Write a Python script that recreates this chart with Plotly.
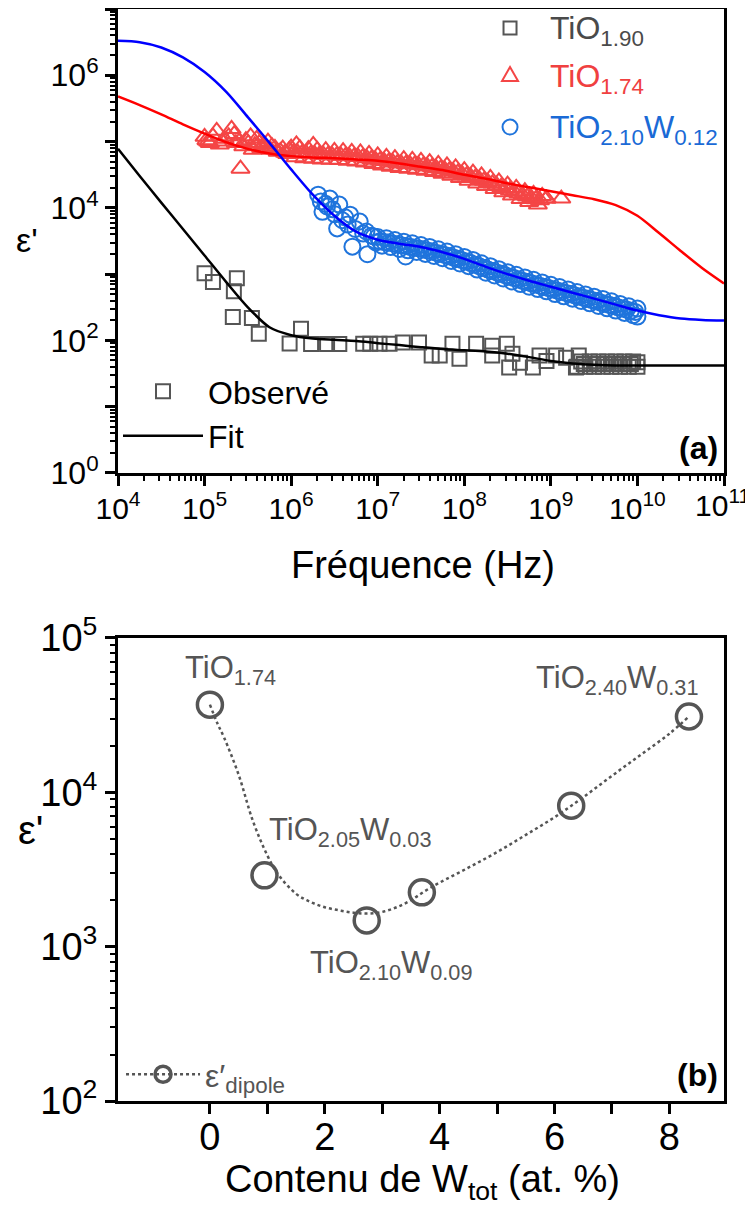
import plotly.graph_objects as go

# ---------------- Panel (a) data ----------------
# TiO1.90 (observed)
f_190 = [1.0e5, 1.25e5, 2.36e5, 2.18e5, 2.12e5, 3.52e5, 4.23e5, 9.6e5, 1.3e6, 1.7e6,
         2.6e6, 3.6e6, 6.8e6, 8.2e6, 1.05e7, 1.37e7, 1.95e7, 3.0e7, 4.2e7, 5.2e7,
         7.3e7, 8.8e7, 1.37e8, 2.1e8, 2.1e8, 3.1e8, 3.6e8, 3.3e8, 4.4e8, 6.2e8,
         7.4e8, 8.9e8, 1.15e9, 1.5e9, 1.95e9, 2.1e9, 2.0e9, 2.24e9, 2.4e9, 2.51e9,
         2.82e9, 3.16e9, 3.4e9, 3.55e9, 3.98e9, 4.2e9, 4.47e9, 5.01e9, 5.3e9, 5.62e9,
         6.31e9, 6.7e9, 7.08e9, 7.94e9, 8.4e9, 8.91e9, 1.0e10, 1.0e10]
e_190 = [1030, 760, 870, 550, 226, 218, 126, 90, 150, 88,
         88, 88, 89, 89, 89, 89, 93, 93, 59, 59,
         89, 53, 89, 83, 59, 89, 63, 39, 46, 39,
         59, 49, 59, 55, 39, 59, 40, 48, 44, 40,
         48, 40, 44, 48, 40, 44, 48, 40, 44, 48,
         40, 44, 48, 40, 44, 48, 40, 47]

# TiO1.74 (observed)
f_174 = [1.0e5, 1.05e5, 1.1e5, 1.15e5, 1.25e5, 1.38e5, 1.5e5, 1.6e5, 1.7e5, 1.9e5,
         2.05e5, 2.2e5, 2.3e5, 2.5e5, 2.6e5, 2.8e5, 3.0e5, 3.2e5, 3.4e5, 3.6e5,
         3.8e5, 4.0e5, 4.3e5, 4.5e5, 4.8e5, 5.0e5, 5.4e5, 5.8e5, 6.0e5, 6.5e5,
         7.0e5, 7.5e5, 8.0e5, 8.5e5, 9.0e5, 9.5e5, 1.15e6, 1.8e6,
         1.0e6, 1.12e6, 1.26e6, 1.41e6, 1.58e6, 1.78e6, 2.0e6, 2.24e6, 2.51e6, 2.82e6,
         3.16e6, 3.55e6, 3.98e6, 4.47e6, 5.01e6, 5.62e6, 6.31e6, 7.08e6, 7.94e6, 8.91e6,
         1.0e7, 1.12e7, 1.26e7, 1.41e7, 1.58e7, 1.78e7, 2.0e7, 2.24e7, 2.51e7, 2.82e7,
         3.16e7, 3.55e7, 3.98e7, 4.47e7, 5.01e7, 5.62e7, 6.31e7, 7.08e7, 7.94e7, 8.91e7,
         1.0e8, 1.12e8, 1.26e8, 1.41e8, 1.58e8, 1.78e8, 2.0e8, 2.24e8, 2.51e8, 2.82e8,
         3.16e8, 3.55e8, 3.98e8, 4.47e8, 5.01e8, 5.62e8, 6.31e8, 7.08e8, 7.94e8, 8.91e8,
         8.9e8, 1.32e9,
         1.06e6, 1.19e6, 1.33e6, 1.50e6, 1.68e6, 1.88e6, 2.11e6, 2.37e6, 2.66e6, 2.99e6,
         3.35e6, 3.76e6, 4.22e6, 4.73e6, 5.31e6, 5.96e6, 6.68e6, 7.50e6, 8.41e6, 9.44e6,
         1.06e7, 1.19e7, 1.33e7, 1.50e7, 1.68e7, 1.88e7, 2.11e7, 2.37e7, 2.66e7, 2.99e7,
         3.35e7, 3.76e7, 4.22e7, 4.73e7, 5.31e7, 5.96e7, 6.68e7, 7.50e7, 8.41e7, 9.44e7,
         1.06e8, 1.19e8, 1.33e8, 1.50e8, 1.68e8, 1.88e8, 2.11e8, 2.37e8, 2.66e8, 2.99e8,
         3.35e8, 3.76e8, 4.22e8, 4.73e8, 5.31e8, 5.96e8, 6.68e8, 7.50e8]
e_174 = [118000, 105000, 100000, 95000, 120000, 145000, 90000, 100000, 110000, 120000,
         155000, 130000, 95000, 100000, 39000, 85000, 105000, 95000, 120000, 75000,
         88000, 110000, 95000, 80000, 90000, 82000, 100000, 75000, 85000, 80000,
         70000, 72000, 78000, 68000, 65000, 75000, 91000, 89000,
         81300, 58200, 79400, 56200, 76700, 55000, 75000, 53700, 74100, 53100,
         72400, 52500, 71600, 51300, 70000, 50100, 68400, 48400, 65300, 45700,
         61700, 43600, 58900, 41700, 56200, 39800, 54300, 38900, 53100, 37600,
         51300, 36300, 49000, 34700, 46200, 32700, 43600, 30500, 40700, 28200,
         37200, 25700, 33900, 23400, 30900, 21400, 28200, 19300, 25100, 17200,
         22400, 15300, 20000, 13600, 17800, 12300, 16200, 11200, 15100, 13800,
         13800, 13800,
         68700, 67900, 66800, 65600, 64900, 64100, 63400, 63100, 62700, 61900,
         61700, 61200, 60500, 59800, 59200, 58500, 57500, 56200, 54600, 53100,
         51900, 50700, 49500, 48400, 47300, 46500, 45900, 45400, 44700, 43900,
         43200, 42200, 41200, 40000, 38900, 37800, 36500, 35200, 33900, 32400,
         30900, 29500, 28200, 26900, 25700, 24500, 23300, 22000, 20700, 19600,
         18500, 17500, 16500, 15600, 14800, 14100, 13500, 13000]

# TiO2.10W0.12 (observed)
f_210 = [2.05e6, 2.2e6, 2.3e6, 2.5e6, 2.6e6, 2.8e6, 3.0e6, 3.2e6, 3.4e6, 3.6e6,
         3.9e6, 4.2e6, 4.5e6, 4.8e6, 5.1e6, 5.5e6, 6.2e6, 6.8e6, 7.4e6, 7.6e6,
         8.5e6, 9.0e6, 9.5e6, 2.1e7,
         1.0e7, 1.12e7, 1.26e7, 1.41e7, 1.58e7, 1.78e7, 2.0e7, 2.24e7, 2.51e7, 2.82e7,
         3.16e7, 3.55e7, 3.98e7, 4.47e7, 5.01e7, 5.62e7, 6.31e7, 7.08e7, 7.94e7, 8.91e7,
         1.0e8, 1.12e8, 1.26e8, 1.41e8, 1.58e8, 1.78e8, 2.0e8, 2.24e8, 2.51e8, 2.82e8,
         3.16e8, 3.55e8, 3.98e8, 4.47e8, 5.01e8, 5.62e8, 6.31e8, 7.08e8, 7.94e8, 8.91e8,
         1.0e9, 1.12e9, 1.26e9, 1.41e9, 1.58e9, 1.78e9, 2.0e9, 2.24e9, 2.51e9, 2.82e9,
         3.16e9, 3.55e9, 3.98e9, 4.47e9, 5.01e9, 5.62e9, 6.31e9, 7.08e9, 7.94e9, 8.91e9,
         1.0e10, 1.0e10,
         1.06e7, 1.19e7, 1.33e7, 1.50e7, 1.68e7, 1.88e7, 2.11e7, 2.37e7, 2.66e7, 2.99e7,
         3.35e7, 3.76e7, 4.22e7, 4.73e7, 5.31e7, 5.96e7, 6.68e7, 7.50e7, 8.41e7, 9.44e7,
         1.06e8, 1.19e8, 1.33e8, 1.50e8, 1.68e8, 1.88e8, 2.11e8, 2.37e8, 2.66e8, 2.99e8,
         3.35e8, 3.76e8, 4.22e8, 4.73e8, 5.31e8, 5.96e8, 6.68e8, 7.50e8, 8.41e8, 9.44e8,
         1.06e9, 1.19e9, 1.33e9, 1.50e9, 1.68e9, 1.88e9, 2.11e9, 2.37e9, 2.66e9, 2.99e9,
         3.35e9, 3.76e9, 4.22e9, 4.73e9, 5.31e9, 5.96e9, 6.68e9, 7.50e9, 8.41e9, 9.44e9]
e_210 = [15800, 12500, 8700, 11500, 10500, 13800, 9500, 8000, 4900, 11200,
         6500, 7200, 5600, 7900, 2600, 4800, 6200, 4100, 4400, 2000,
         3800, 3700, 3000, 1850,
         3630, 2690, 3470, 2570, 3270, 2400, 3090, 2290, 2920, 2160,
         2750, 2020, 2570, 1880, 2370, 1740, 2190, 1580, 2000, 1450,
         1820, 1320, 1640, 1170, 1460, 1050, 1320, 955, 1190, 861,
         1070, 776, 977, 708, 891, 646, 822, 596, 750, 550,
         692, 501, 638, 462, 589, 427, 537, 394, 495, 363,
         457, 331, 422, 305, 389, 282, 355, 260, 327, 240,
         302, 229,
         3130, 3050, 2990, 2900, 2800, 2720, 2660, 2580, 2510, 2440,
         2360, 2280, 2200, 2110, 2030, 1950, 1860, 1780, 1700, 1620,
         1550, 1470, 1390, 1310, 1240, 1170, 1120, 1060, 1010, 960,
         912, 871, 832, 794, 759, 728, 700, 668, 641, 617,
         589, 565, 543, 521, 501, 479, 459, 442, 424, 407,
         389, 373, 359, 344, 331, 316, 303, 292, 280, 269]

# Fits (curves)
f_fit = [1.0e4, 1.78e4, 3.16e4, 5.62e4, 1.0e5, 1.78e5, 3.16e5, 5.62e5, 1.0e6, 1.78e6,
         3.16e6, 5.62e6, 1.0e7, 1.78e7, 3.16e7, 5.62e7, 1.0e8, 1.78e8, 3.16e8, 5.62e8,
         1.0e9, 1.78e9, 3.16e9, 5.62e9, 1.0e10, 1.78e10, 3.16e10, 5.62e10, 1.0e11]
fit_190 = [77600, 30200, 12000, 4790, 1910, 759, 316, 158, 120, 107,
           102, 98, 91, 85, 79, 74, 71, 68, 63, 56,
           49, 45, 43, 42, 42, 42, 42, 42, 42]
fit_174 = [479000, 355000, 257000, 182000, 132000, 97700, 77600, 66100, 60300, 57500,
           56200, 53700, 51300, 46800, 41700, 37200, 31600, 27500, 23400, 20400,
           17800, 15500, 13500, 11000, 7590, 4170, 2240, 1230, 724]
fit_210 = [3310000, 3160000, 2630000, 1860000, 1120000, 562000, 234000, 95500, 38000, 15800,
           7590, 4370, 3310, 2880, 2570, 2140, 1700, 1290, 1000, 794,
           646, 525, 427, 347, 282, 240, 214, 204, 200]

# legend labels of panel (a)
names_a = ["TiO<sub>1.90</sub>", "TiO<sub>1.74</sub>", "TiO<sub>2.10</sub>W<sub>0.12</sub>"]

# ---------------- Panel (b) data ----------------
w_tot = [0.0, 0.95, 2.73, 3.69, 6.29, 8.34]
eps_dip = [37000, 2900, 1480, 2250, 8200, 31000]
w_fit = [0.0, 0.13, 0.25, 0.5, 0.75, 1.0, 1.17, 1.5, 1.75, 2.0, 2.25, 2.5, 2.75, 3.0,
         3.25, 3.5, 3.75, 4.0, 4.5, 5.0, 5.5, 6.0, 6.5, 7.0, 7.5, 8.0, 8.34]
eps_fit = [37000, 28000, 22500, 13000, 6500, 3900, 3000, 2200, 1950, 1800, 1720, 1660, 1640, 1680,
           1800, 2000, 2300, 2600, 3250, 4100, 5300, 6900, 9300, 12800, 17500, 24000, 31000]
labels_b = ["TiO<sub>1.74</sub>", "TiO<sub>2.05</sub>W<sub>0.03</sub>",
            "TiO<sub>2.10</sub>W<sub>0.09</sub>", "TiO<sub>2.40</sub>W<sub>0.31</sub>"]

FONT = "Liberation Sans, Arial, sans-serif"
GRAY = "#555555"
RED_M = "#f44646"
BLUE_M = "#1f74dc"
TXT_COLS = ["#4a4a4a", "#f04040", "#1a6ad6"]

fig = go.Figure()

# observed markers (panel a)
fig.add_trace(go.Scatter(x=f_190, y=e_190, mode="markers", xaxis="x", yaxis="y", showlegend=False,
                         marker=dict(symbol="square-open", size=14, color=GRAY, line=dict(width=2))))
fig.add_trace(go.Scatter(x=f_174, y=e_174, mode="markers", xaxis="x", yaxis="y", showlegend=False,
                         marker=dict(symbol="triangle-up-open", size=16, color=RED_M, line=dict(width=2))))
fig.add_trace(go.Scatter(x=f_210, y=e_210, mode="markers", xaxis="x", yaxis="y", showlegend=False,
                         marker=dict(symbol="circle-open", size=16, color=BLUE_M, line=dict(width=2))))
# fit lines
for yv, col in [(fit_190, "#000000"), (fit_174, "#ff0000"), (fit_210, "#0000ff")]:
    fig.add_trace(go.Scatter(x=f_fit, y=yv, mode="lines", xaxis="x", yaxis="y",
                             line=dict(color=col, width=2.5, shape="spline", smoothing=0.8),
                             showlegend=False, hoverinfo="skip"))
# second legend (Observé / Fit)
fig.add_trace(go.Scatter(x=[None], y=[None], mode="markers", xaxis="x", yaxis="y",
                         name="Observé", legend="legend2",
                         marker=dict(symbol="square-open", size=14, color=GRAY, line=dict(width=2))))
fig.add_trace(go.Scatter(x=[None], y=[None], mode="lines", xaxis="x", yaxis="y",
                         name="Fit", legend="legend2", line=dict(color="black", width=2.5)))

# panel b
fig.add_trace(go.Scatter(x=w_fit, y=eps_fit, mode="lines", xaxis="x2", yaxis="y2",
                         line=dict(color=GRAY, width=2.5, dash="dot", shape="spline"),
                         showlegend=False, hoverinfo="skip"))
fig.add_trace(go.Scatter(x=w_tot, y=eps_dip, mode="markers", xaxis="x2", yaxis="y2",
                         showlegend=False,
                         marker=dict(symbol="circle-open", size=25, color=GRAY, line=dict(width=3.5))))
fig.add_trace(go.Scatter(x=[None], y=[None], mode="lines+markers", xaxis="x2", yaxis="y2",
                         name="ε′<sub>dipole</sub>", legend="legend3",
                         marker=dict(symbol="circle-open", size=22, color=GRAY, line=dict(width=3.5)),
                         line=dict(color=GRAY, width=2.5, dash="dot")))

sup = lambda k: "10<sup>%d</sup>" % k
axis_common = dict(showline=True, linewidth=3, linecolor="black", mirror=True,
                   ticks="outside", ticklen=10, tickwidth=2.5, tickcolor="black",
                   showgrid=False, zeroline=False, ticklabeloverflow="allow")
minor_log = dict(ticks="outside", ticklen=5, tickwidth=2, tickcolor="black", dtick="D1")

# the page body adds an 8px offset; figure is sized to fit the window
fig.update_layout(
    width=745, height=1198,
    margin=dict(l=110, r=29, t=1, b=105, autoexpand=False),
    paper_bgcolor="white", plot_bgcolor="white",
    font=dict(family=FONT, color="black"),
    xaxis=dict(type="log", range=[4, 11], domain=[0, 1], anchor="y",
               tickvals=[10 ** k for k in range(4, 12)],
               ticktext=[sup(k) if k < 11 else "" for k in range(4, 12)],
               tickfont=dict(size=30), minor=minor_log, ticklabelstandoff=-3, **axis_common),
    yaxis=dict(type="log", range=[0, 7], domain=[0.5751, 1.0], anchor="x",
               tickvals=[10 ** k for k in range(0, 8)],
               ticktext=[sup(k) if k % 2 == 0 else "" for k in range(0, 8)],
               tickfont=dict(size=32), minor=minor_log, **axis_common),
    xaxis2=dict(range=[-1.6, 8.95], domain=[0, 1], anchor="y2",
                tickvals=list(range(0, 9)),
                ticktext=[str(k) if k % 2 == 0 else "" for k in range(0, 9)],
                tickfont=dict(size=38), ticklabelstandoff=-10, **axis_common),
    yaxis2=dict(type="log", range=[2, 5], domain=[0, 0.424], anchor="x2",
                tickvals=[10 ** k for k in range(2, 6)], ticktext=[sup(k) for k in range(2, 6)],
                tickfont=dict(size=38), minor=minor_log, **axis_common),
    legend2=dict(x=0.0, y=0.675, font=dict(size=32, family=FONT), itemwidth=80,
                 xanchor="left", yanchor="top", bgcolor="rgba(0,0,0,0)"),
    legend3=dict(x=0.005, y=0.0495, font=dict(size=32, family=FONT, color=GRAY), itemwidth=74,
                 xanchor="left", yanchor="top", bgcolor="rgba(0,0,0,0)"),
    showlegend=True,
)

# legend key symbols of panel (a), drawn as pixel-sized shapes in the top-right corner
key_x = 0.6469
key_y = [0.9826, 0.9396, 0.8919]
shp = [
    dict(type="rect", x0=-6.5, x1=6.5, y0=-6.5, y1=6.5, line=dict(color=GRAY, width=2)),
    dict(type="path", path="M-8,-6 L8,-6 L0,8 Z", line=dict(color=RED_M, width=2)),
    dict(type="circle", x0=-7.5, x1=7.5, y0=-7.5, y1=7.5, line=dict(color=BLUE_M, width=2)),
]
shapes = []
for s, yy in zip(shp, key_y):
    s.update(xref="paper", yref="paper", xsizemode="pixel", ysizemode="pixel",
             xanchor=key_x, yanchor=yy, fillcolor="rgba(0,0,0,0)")
    shapes.append(s)
fig.update_layout(shapes=shapes)

ann = []
for t, c, yy in zip(names_a, TXT_COLS, [0.9799, 0.9368, 0.8892]):
    ann.append(dict(text=t, xref="paper", yref="paper", x=0.7096, y=yy, showarrow=False,
                    font=dict(size=32, family=FONT, color=c), xanchor="left", yanchor="middle"))
ann.append(dict(text=sup(11), xref="paper", yref="paper", x=1.0462, y=0.5476, showarrow=False,
                font=dict(size=30, family=FONT), xanchor="right", yanchor="middle"))
ann.append(dict(text="Fréquence (Hz)", xref="paper", yref="paper", x=0.5033, y=0.4908,
                showarrow=False, font=dict(size=38, family=FONT), xanchor="center", yanchor="middle"))
ann.append(dict(text="Contenu de W<sub>tot</sub> (at. %)", xref="paper", yref="paper", x=0.5033, y=-0.074,
                showarrow=False, font=dict(size=38, family=FONT), xanchor="center", yanchor="middle"))
ann.append(dict(text="ε'", xref="paper", yref="paper", x=-0.15, y=0.7885, showarrow=False,
                font=dict(size=34, family=FONT), xanchor="center", yanchor="middle"))
ann.append(dict(text="ε'", xref="paper", yref="paper", x=-0.145, y=0.2482, showarrow=False,
                font=dict(size=40, family=FONT), xanchor="center", yanchor="middle"))
ann.append(dict(text="<b>(a)</b>", xref="paper", yref="paper", x=0.993, y=0.598, showarrow=False,
                font=dict(size=32, family=FONT), xanchor="right", yanchor="middle"))
ann.append(dict(text="<b>(b)</b>", xref="paper", yref="paper", x=0.993, y=0.0238, showarrow=False,
                font=dict(size=32, family=FONT), xanchor="right", yanchor="middle"))
lab_x = [0.36, 2.44, 3.17, 7.1]
lab_y = [4.795, 3.74, 2.88, 4.73]
for t, xx, yy in zip(labels_b, lab_x, lab_y):
    ann.append(dict(text=t, xref="x2", yref="y2", x=xx, y=yy, showarrow=False,
                    font=dict(size=31, family=FONT, color=GRAY), xanchor="center", yanchor="middle"))
fig.update_layout(annotations=ann)

fig.write_html("out.html")
